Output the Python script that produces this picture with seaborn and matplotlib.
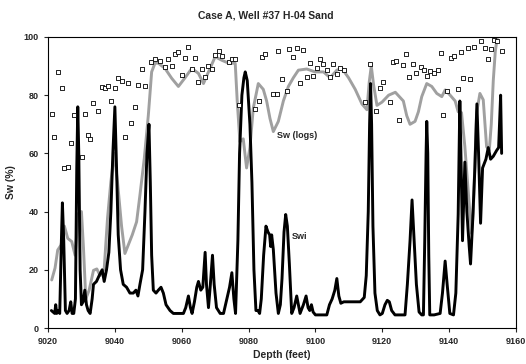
"""Case A, Well #37 H-04 Sand: Sw from logs vs Swi against depth."""

import matplotlib
matplotlib.use("Agg")
import matplotlib.pyplot as plt
import pandas as pd
import seaborn as sns

sns.set_style("ticks")
plt.rcParams.update({
    "font.family": ["Liberation Sans", "DejaVu Sans"],
    "font.weight": "bold",
    "axes.labelweight": "bold",
    "axes.titleweight": "bold",
})

# Swi curve (black)
SWI_DEPTH = [
    9021.0, 9021.5, 9022.0, 9022.3, 9022.6, 9023.0, 9023.5, 9024.0, 9024.3, 9024.7,
    9025.2, 9025.7, 9026.3, 9026.8, 9027.2, 9027.7, 9028.2, 9028.6, 9028.9, 9029.2,
    9029.6, 9030.0, 9030.5, 9031.0, 9031.5, 9032.0, 9032.6, 9033.2, 9033.6, 9034.5,
    9035.3, 9036.2, 9036.8, 9037.5, 9038.2, 9038.8, 9039.4, 9040.0, 9040.5, 9041.0,
    9041.7, 9042.5, 9043.5, 9044.5, 9045.5, 9046.3, 9046.9, 9047.5, 9048.3, 9049.0,
    9049.6, 9050.2, 9050.6, 9051.0, 9051.5, 9052.3, 9053.0, 9053.8, 9054.5, 9055.3,
    9056.5, 9057.5, 9060.5, 9061.2, 9062.0, 9062.6, 9063.1, 9063.8, 9064.5, 9065.0,
    9065.7, 9066.3, 9067.0, 9067.4, 9068.0, 9068.5, 9069.2, 9069.7, 9070.4, 9071.5,
    9072.5, 9073.5, 9074.3, 9075.0, 9075.6, 9076.1, 9076.8, 9077.3, 9078.0, 9078.6,
    9079.0, 9079.6, 9080.4, 9081.0, 9081.6, 9082.2, 9082.8, 9083.3, 9083.8, 9084.5,
    9085.2, 9085.8, 9086.3, 9086.6, 9086.9, 9087.4, 9088.2, 9088.9, 9089.5, 9090.0,
    9090.6, 9091.1, 9091.6, 9092.2, 9092.9, 9093.6, 9094.4, 9094.9, 9095.4, 9096.4,
    9097.2, 9097.8, 9098.3, 9098.8, 9099.3, 9100.0, 9103.4, 9104.2, 9105.0, 9105.8,
    9106.4, 9107.0, 9107.6, 9108.5, 9110.4, 9112.0, 9113.4, 9114.6, 9115.2, 9115.8,
    9116.2, 9116.5, 9116.8, 9117.2, 9117.8, 9118.5, 9119.3, 9120.0, 9120.8, 9121.5,
    9122.1, 9122.8, 9123.8, 9126.8, 9127.5, 9128.3, 9128.9, 9129.4, 9130.2, 9131.0,
    9131.8, 9132.3, 9132.7, 9133.1, 9133.3, 9133.6, 9133.9, 9134.2, 9135.5, 9137.3,
    9138.0, 9138.8, 9139.4, 9140.2, 9141.3, 9142.0, 9142.7, 9143.2, 9143.6, 9144.0,
    9144.7, 9145.3, 9146.0, 9146.4, 9147.0, 9147.7, 9148.3, 9148.8, 9149.4, 9150.0,
    9151.0, 9151.7, 9152.4, 9153.2, 9154.2, 9154.8, 9155.4, 9155.7,
]
SWI = [
    6, 5.5, 5, 8, 5, 6, 5, 30, 43, 30,
    6, 5, 6, 9, 5, 5, 10, 55, 76, 60,
    20, 8, 9, 13, 8, 6, 5, 10, 15, 16,
    18, 20, 16, 20, 26, 40, 60, 76, 55, 32,
    20, 15, 14, 12, 12, 13, 11, 15, 20, 40,
    60, 70, 50, 25, 13, 12, 13, 14, 12, 8,
    6, 5, 5, 7, 11, 7, 5, 9, 14, 16,
    13, 14, 26, 15, 7, 14, 25, 15, 7, 5,
    5, 10, 14, 19, 10, 5, 30, 60, 80, 86,
    88, 85, 70, 50, 20, 6, 6, 5, 10, 25,
    35, 33, 32, 28, 32, 27, 12, 5, 8, 17,
    33, 39, 35, 22, 5, 7, 11, 8, 5, 8,
    11, 7, 6, 8, 5.5, 4.5, 4.5, 8, 10, 13,
    17, 11, 8.5, 9, 9, 9, 9, 10.5, 18, 40,
    70, 84, 70, 35, 12, 6, 4.5, 5, 8, 9.5,
    9, 6, 4.5, 4.5, 15, 30, 44, 33, 15, 5.5,
    4.5, 4.5, 30, 60, 71, 60, 25, 4.5, 4.5, 5,
    12, 23, 15, 5, 4.5, 12, 39, 78, 55, 30,
    57, 40, 28, 22, 36, 55, 77, 60, 36, 55,
    58, 62, 58, 59, 61, 62, 80, 60,
]

# Sw (logs) curve (grey)
SW_LOG_DEPTH = [
    9021.1, 9022.1, 9022.9, 9023.9, 9024.9, 9025.9, 9027.1, 9028.1, 9029.1, 9030.0,
    9030.6, 9031.3, 9032.3, 9033.6, 9034.6, 9035.6, 9036.8, 9037.8, 9038.8, 9039.8,
    9040.8, 9042.0, 9043.0, 9044.0, 9045.2, 9046.5, 9047.5, 9048.8, 9050.0, 9051.0,
    9052.0, 9053.0, 9055.0, 9057.0, 9059.0, 9061.0, 9063.0, 9065.0, 9066.5, 9068.0,
    9070.0, 9072.0, 9074.0, 9076.0, 9076.6, 9077.4, 9078.4, 9079.4, 9080.4, 9081.4,
    9082.9, 9084.4, 9085.4, 9086.4, 9087.4, 9088.9, 9090.4, 9091.9, 9093.4, 9094.9,
    9097.4, 9099.9, 9102.4, 9104.4, 9106.4, 9107.9, 9109.9, 9111.9, 9113.9, 9115.4,
    9116.1, 9116.7, 9117.4, 9118.4, 9119.9, 9121.9, 9123.9, 9126.3, 9127.3, 9128.3,
    9129.8, 9130.8, 9131.8, 9133.3, 9134.8, 9136.3, 9137.8, 9138.8, 9140.3, 9141.8,
    9142.7, 9143.7, 9144.7, 9145.7, 9146.7, 9147.2, 9148.2, 9149.2, 9150.2, 9151.2,
    9152.0, 9152.6, 9153.2, 9153.8, 9154.4, 9155.0,
]
SW_LOG = [
    16.5, 20.6, 26.8, 28.5, 35, 30.8, 29.7, 25, 39.4, 40,
    27.6, 10, 13, 19.8, 20.3, 18, 20.3, 37.7, 50.3, 60,
    50, 35, 25.6, 28.5, 32, 36.5, 45.7, 58.3, 73, 88,
    91, 91, 89.2, 85.8, 83, 86, 89.2, 87.5, 84, 88,
    93.2, 92, 91, 91, 78, 64, 65, 55, 62, 75.5,
    84, 82, 78, 72, 67.5, 71, 78, 83, 86, 88.6,
    89, 88, 88, 86, 88.6, 89.2, 86, 82, 77, 75,
    84.6, 90, 83.5, 76.5, 77.6, 80, 81, 78, 73, 70,
    71, 74.3, 79.5, 84, 83, 80.6, 79.5, 81.8, 80, 78,
    74.3, 74, 62.3, 47, 32.5, 39.4, 73.8, 80.6, 78.4, 62.3,
    61, 70, 85, 95, 100, 102,
]

# Core points (open squares)
CORE_DEPTH = [
    9021.1, 9021.9, 9022.9, 9024.1, 9024.9, 9025.9, 9026.9, 9027.9, 9030.3, 9031.1,
    9031.9, 9032.6, 9033.6, 9034.9, 9036.1, 9037.0, 9038.0, 9038.8, 9040.0, 9041.0,
    9042.0, 9043.0, 9044.0, 9044.8, 9046.0, 9047.0, 9048.0, 9049.0, 9050.9, 9052.0,
    9053.5, 9055.0, 9056.0, 9057.0, 9058.0, 9059.0, 9060.0, 9061.0, 9062.0, 9063.0,
    9064.0, 9065.0, 9066.0, 9067.0, 9068.0, 9069.0, 9070.0, 9071.0, 9072.0, 9074.0,
    9075.0, 9076.0, 9077.0, 9082.0, 9083.0, 9084.0, 9085.0, 9087.4, 9088.4, 9088.9,
    9089.9, 9091.4, 9092.1, 9093.4, 9094.4, 9095.4, 9096.4, 9097.4, 9098.4, 9099.4,
    9100.4, 9101.4, 9102.4, 9103.4, 9104.4, 9105.4, 9106.4, 9107.4, 9108.4, 9114.9,
    9116.4, 9118.2, 9119.2, 9120.3, 9122.2, 9123.2, 9124.1, 9125.1, 9126.1, 9127.1,
    9128.1, 9129.1, 9130.1, 9131.6, 9132.6, 9133.3, 9134.3, 9135.6, 9136.8, 9137.5,
    9138.3, 9139.5, 9140.5, 9141.5, 9142.7, 9143.4, 9144.2, 9145.7, 9146.2, 9147.4,
    9149.4, 9150.7, 9151.5, 9152.5, 9153.4, 9154.4, 9155.9,
]
CORE_SW = [
    73.6, 65.8, 88.1, 82.4, 54.9, 55.3, 63.5, 73.2, 58.9, 73.6,
    66.3, 65, 77.4, 74.4, 82.7, 82.6, 83.2, 78.1, 82.6, 85.8,
    84.9, 65.5, 84.3, 70.6, 76.1, 83.5, 89, 83.2, 91.5, 92.4,
    91.8, 89.6, 92.4, 90.1, 94, 94.7, 86.8, 92.9, 96.7, 89,
    92.9, 84.4, 89, 86.4, 90.1, 89.1, 93.8, 95.2, 93.4, 91.5,
    92.4, 92.4, 76.5, 75.4, 78, 93.2, 94, 80.3, 80.3, 95.2,
    85.4, 81.4, 95.9, 93.2, 96.3, 84.1, 95.5, 86.1, 91, 86.7,
    89.2, 92.4, 90.7, 88.8, 86.4, 90.8, 87.2, 89.2, 88.6, 77.8,
    90.6, 74.6, 82.4, 84.6, 77.6, 91.5, 91.8, 71.5, 90.4, 94,
    86.4, 90.6, 87.5, 89.8, 88.6, 86.7, 88.3, 87.5, 88.6, 94.6,
    73.2, 81.5, 92.9, 93.6, 82.1, 94.7, 86, 96.1, 85.6, 96.7,
    98.6, 96.1, 92.4, 95.9, 99, 98.6, 95.2,
]

swi_df = pd.DataFrame({"depth": SWI_DEPTH, "sw": SWI})
log_df = pd.DataFrame({"depth": SW_LOG_DEPTH, "sw": SW_LOG})
core_df = pd.DataFrame({"depth": CORE_DEPTH, "sw": CORE_SW})

fig = plt.figure(figsize=(5.26, 3.64), dpi=100)
ax = fig.add_axes([0.0913, 0.0989, 0.8897, 0.7995])

sns.lineplot(data=log_df, x="depth", y="sw", sort=False, estimator=None,
             color="#a0a0a0", linewidth=2.1, ax=ax)
sns.lineplot(data=swi_df, x="depth", y="sw", sort=False, estimator=None,
             color="black", linewidth=2.1, ax=ax)
sns.scatterplot(data=core_df, x="depth", y="sw", marker="s", s=10,
                facecolor="white", edgecolor="black", linewidth=0.6,
                zorder=5, ax=ax)

ax.set_xlim(9020, 9160)
ax.set_ylim(0, 100)
ax.set_xticks(range(9020, 9161, 20))
ax.set_yticks(range(0, 101, 20))
ax.tick_params(labelsize=6.5, length=3, width=0.8, direction="out")
for s in ax.spines.values():
    s.set_linewidth(0.8)
    s.set_color("black")

ax.set_xlabel("Depth (feet)", fontsize=7.5, labelpad=3)
ax.set_ylabel("Sw (%)", fontsize=7.5, labelpad=6)
fig.suptitle("Case A, Well #37 H-04 Sand", fontsize=7.5, fontweight="bold", x=0.505, y=0.972)

ax.text(9088.5, 66, "Sw (logs)", fontsize=6.5, fontweight="bold", va="center")
ax.text(9092.9, 31.6, "Swi", fontsize=6.5, fontweight="bold", va="center")

fig.savefig("out.png", dpi=100)
